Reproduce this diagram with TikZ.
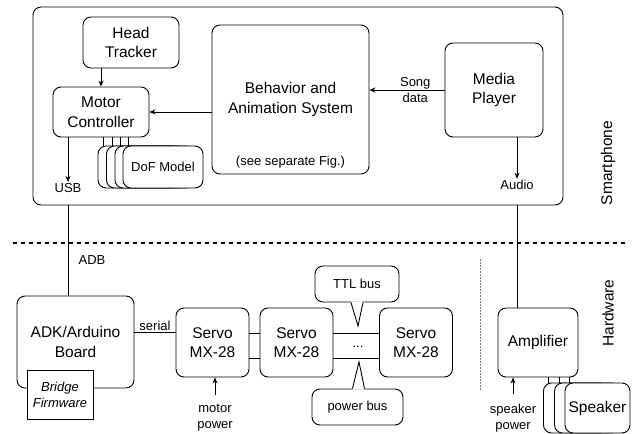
\documentclass[tikz,border=0pt]{standalone}
\usepackage{fontspec}
\setmainfont{Liberation Sans}
\usetikzlibrary{arrows.meta,calc}
\newcommand{\bigtxt}{\fontsize{15.5}{19.5}\selectfont}
\newcommand{\smalltxt}{\fontsize{13}{16}\selectfont}

\begin{document}
\begin{tikzpicture}[x=1pt,y=-1pt,line width=0.9pt,
  box/.style={draw,rounded corners=8pt,fill=white,align=center,font=\bigtxt,inner sep=0pt},
  lbl/.style={align=center,font=\smalltxt,inner sep=1pt},
  arr/.style={-{Stealth[length=6pt,width=5pt]}},
  sep/.style={dash pattern=on 4pt off 4pt,line width=1.2pt}]
\useasboundingbox (0,0) rectangle (641,434);

% smartphone side
\node [box,minimum width=530,minimum height=198] (phone) at (298,106) {};
\node [box,minimum width=96,minimum height=51] (tracker) at (131,42.5) {Head\\Tracker};
\node [box,minimum width=96,minimum height=50] (motor) at (101,112) {Motor\\Controller};
\node [box,minimum width=157,minimum height=149] (behavior) at (290.5,99.5) {Behavior and\\Animation System};
\node [lbl] (seefig) at (290.5,162) {(see separate Fig.)};
\node [box,minimum width=98,minimum height=94] (media) at (494,90) {Media\\Player};
\foreach \i/\x in {1/138,2/146.5,3/155}
  \node [box,minimum width=80,minimum height=42] (dof\i) at (\x,167) {};
\node [box,minimum width=80,minimum height=42,font=\smalltxt] (dof4) at (163,167) {DoF Model};
\node [lbl] (usb) at (68,188) {USB};
\node [lbl] (audio) at (517,185) {Audio};
\node [rotate=90,font=\bigtxt] (smart) at (608,163) {Smartphone};

\draw [arr] (tracker.south -| motor.north) -- (motor.north);
\draw [arr] (behavior.west |- motor.east) -- (motor.east);
\draw [arr] (media.west) -- (behavior.east |- media.west) node [lbl,pos=0.39] {Song\\data};
\draw [arr] (motor.south -| usb) -- (usb.north);
\draw [arr] (media.south -| audio) -- (audio.north);
\foreach \i in {1,...,4} {
  \coordinate (d\i) at ($(dof\i.north west)+(6,0)$);
  \draw (d\i) -- (d\i |- motor.south);
}

% separation
\coordinate (sepL) at (13,243);
\coordinate (sepR) at (625,243);
\draw [sep] (sepL) -- (sepR);

% hardware side
\node [box,minimum width=117,minimum height=92] (adk) at (75.5,342) {ADK/Arduino\\Board};
\node [draw,fill=white,minimum width=66,minimum height=49,align=center,font=\smalltxt\itshape,inner sep=0pt] (bridge) at (60,394.5) {Bridge\\Firmware};
\node [lbl] (adb) at (92,260) {ADB};
\foreach \n/\x in {1/212.5,2/296.5,3/416}
  \node [box,minimum width=73,minimum height=69] (servo\n) at (\x,342.5) {Servo\\MX-28};
\node [lbl] (dots) at (358,347) {...};
\node [box,font=\smalltxt,minimum width=84,minimum height=36] (ttl) at (357,284) {TTL bus};
\node [box,font=\smalltxt,minimum width=91,minimum height=36] (pwrbus) at (357.5,407) {power bus};
\coordinate (ttltip) at (358,326);
\coordinate (pwrtip) at (359,362);
\node [box,minimum width=80,minimum height=69] (amp) at (538,342.5) {Amplifier};
\node [lbl] (motorpwr) at (215,418) {motor\\power};
\node [lbl] (spkpwr) at (513,418) {speaker\\power};
\foreach \i/\x in {1/576,2/587}
  \node [box,minimum width=65,minimum height=50] (spk\i) at (\x,408) {};
\node [box,minimum width=65,minimum height=50] (spk3) at (597.5,408) {Speaker};
\node [rotate=90,font=\bigtxt] (hw) at (608,313) {Hardware};

\draw (phone.south -| usb) -- (adk.north -| usb);
\draw (phone.south -| audio) -- (amp.north -| audio);
\draw ([yshift=10pt]adk.east) -- ([yshift=10pt]adk.east -| servo1.west) node [lbl,above,midway] {serial};
\foreach \a/\b in {servo1/servo2,servo2/servo3} {
  \draw ([yshift=9.5pt]\a.east) -- ([yshift=9.5pt]\a.east -| \b.west);
  \draw ([yshift=-15.5pt]\a.east) -- ([yshift=-15.5pt]\a.east -| \b.west);
}
\fill [white] ($(ttl.south)+(-6,-1)$) -- (ttltip) -- ($(ttl.south)+(6,-1)$) -- cycle;
\draw ($(ttl.south)+(-6,0)$) -- (ttltip) -- ($(ttl.south)+(6,0)$);
\fill [white] ($(pwrbus.north)+(-5,1)$) -- (pwrtip) -- ($(pwrbus.north)+(7,1)$) -- cycle;
\draw ($(pwrbus.north)+(-5,0)$) -- (pwrtip) -- ($(pwrbus.north)+(7,0)$);
\draw [gray,dash pattern=on 1.5pt off 1.5pt] (480,259) coordinate (vtop) -- (480,390) coordinate (vbot);
\draw [arr] ([yshift=8pt]motorpwr.north) -- (servo1.south -| motorpwr);
\draw [arr] ([yshift=8pt]spkpwr.north) -- (amp.south -| spkpwr);
\foreach \i in {1,...,3} {
  \coordinate (s\i) at ($(spk\i.north west)+(5,0)$);
  \draw (s\i) -- (s\i |- amp.south);
}
\end{tikzpicture}
\end{document}
